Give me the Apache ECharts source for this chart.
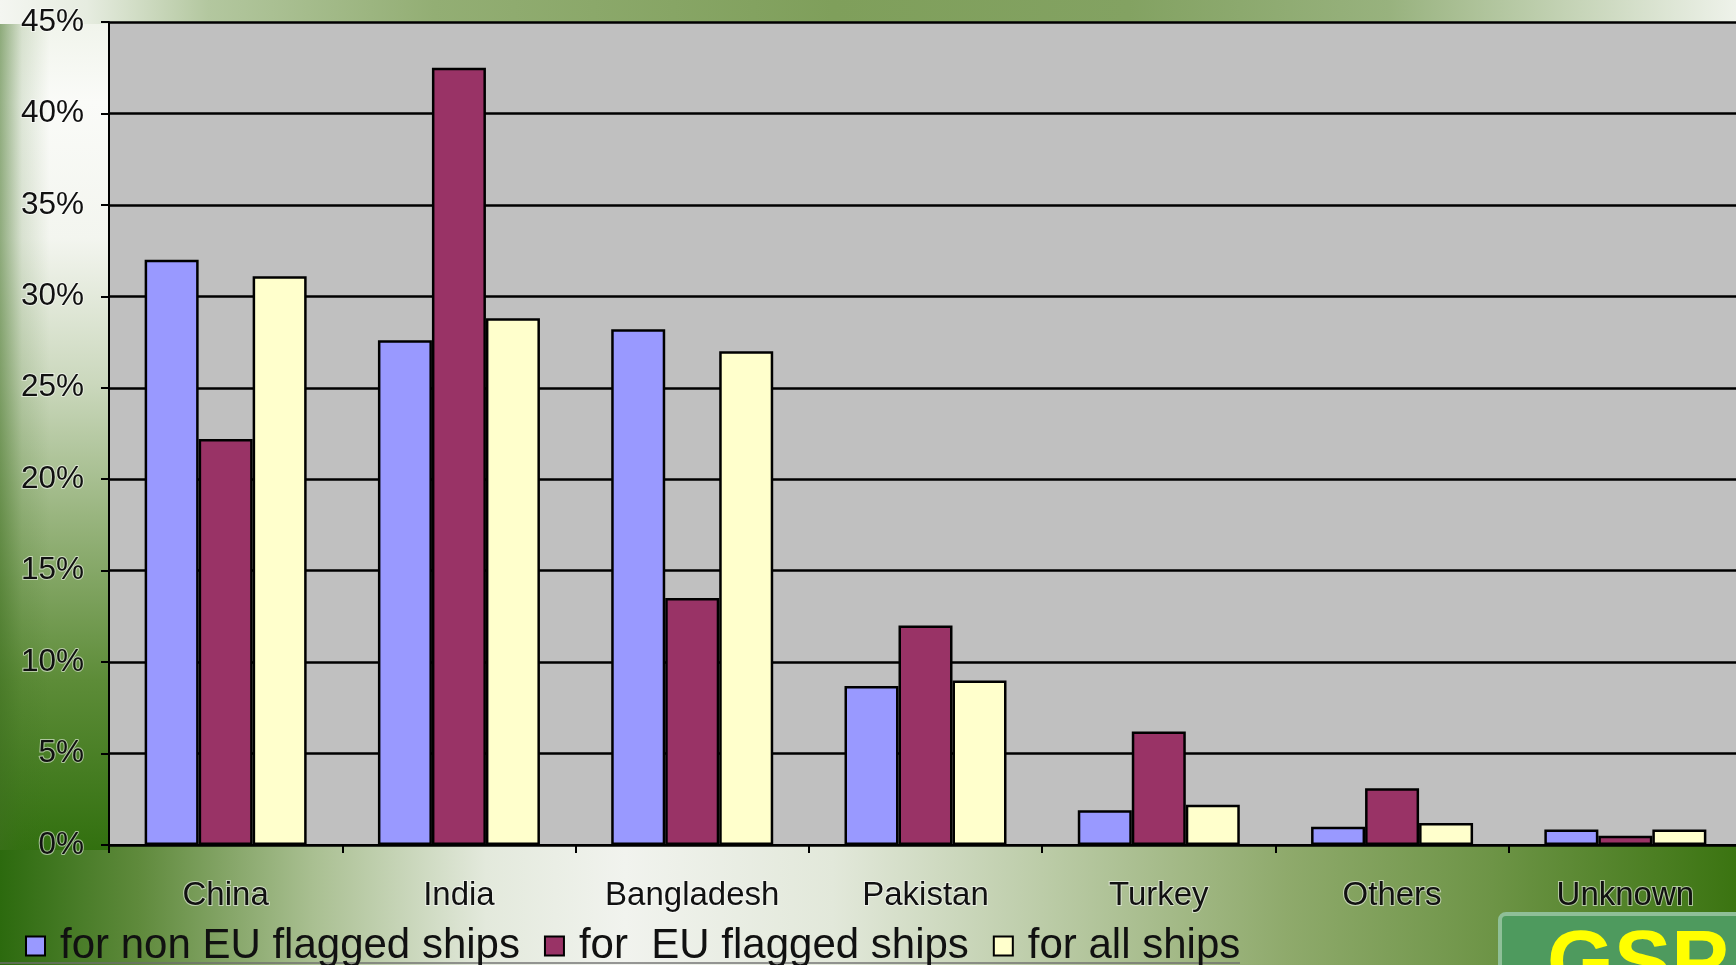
<!DOCTYPE html>
<html>
<head>
<meta charset="utf-8">
<script src="https://cdn.jsdelivr.net/npm/echarts@6/dist/echarts.min.js"></script>
<style>
  html, body { margin: 0; padding: 0; width: 1736px; height: 965px; overflow: hidden; position: relative; }
  #bg { position: absolute; left: 0; top: 0; width: 1736px; height: 965px;
        background: linear-gradient(to right, #2c6a0e 0%, #5f8a3c 8%, #a9bf91 18%, #e3e9dc 28%, #f1f3ee 36%, #e2e8da 48%, #bccca8 60%, #8faa6c 74%, #6d9446 86%, #3b7411 100%); }
  #left { position: absolute; left: 0; top: 0; width: 110px; height: 850px;
          background: linear-gradient(to bottom, #eef2e8 0%, #fafbf8 12%, #f3f5ef 28%, #cbd8bd 45%, #95b27a 62%, #5d8c38 80%, #32700f 100%); }
  #leftedge { position: absolute; left: 0; top: 0; width: 110px; height: 850px;
          background: linear-gradient(to right, rgba(60,110,30,0.55) 0%, rgba(60,110,30,0.15) 20%, rgba(255,255,255,0) 45%, rgba(255,255,255,0) 100%); }
  #top { position: absolute; left: 0; top: 0; width: 1736px; height: 24px;
         background: linear-gradient(to right, #f4f6f1 0%, #e6ece0 5%, #b3c79f 12%, #93ae74 25%, #7f9f5b 48%, #83a262 65%, #98b27e 80%, #cbd8be 92%, #eef2ea 100%); }
  #chart { position: absolute; left: 0; top: 0; width: 1760px; height: 965px; }
</style>
</head>
<body>
<div id="bg"></div>
<div id="left"></div>
<div id="leftedge"></div>
<div id="top"></div>
<div id="chart"></div>
<script>
const categories = ['China', 'India', 'Bangladesh', 'Pakistan', 'Turkey', 'Others', 'Unknown'];
const seriesNames = ['for non EU flagged ships', 'for  EU flagged ships', 'for all ships'];
const nonEU = [32.0, 27.6, 28.2, 8.7, 1.9, 1.0, 0.85];
const EU = [22.2, 42.5, 13.5, 12.0, 6.2, 3.1, 0.5];
const allShips = [31.1, 28.8, 27.0, 9.0, 2.2, 1.2, 0.85];
const colors = ['#9999FF', '#993366', '#FFFFCC'];

const chart = echarts.init(document.getElementById('chart'), null, { renderer: 'canvas' });
const fontFam = "'Liberation Sans', Arial, sans-serif";
const data = [nonEU, EU, allShips];

chart.setOption({
  animation: false,
  backgroundColor: 'transparent',
  grid: {
    left: 109, top: 22, width: 1633, height: 823,
    show: true, backgroundColor: '#C0C0C0', borderWidth: 0
  },
  legend: {
    left: 20, top: 920,
    itemWidth: 19, itemHeight: 19, itemGap: 24,
    icon: 'rect',
    textStyle: { fontFamily: fontFam, fontSize: 42, color: '#111', padding: [0, 0, 0, 10] },
    data: seriesNames
  },
  xAxis: {
    type: 'category',
    data: categories,
    axisLine: { lineStyle: { color: '#000', width: 2 } },
    axisTick: { show: true, length: 8, lineStyle: { color: '#000', width: 2 } },
    axisLabel: {
      fontFamily: fontFam, fontSize: 33, color: '#111', margin: 34,
      textBorderColor: 'rgba(255,255,255,0.55)', textBorderWidth: 2
    },
    splitLine: { show: false }
  },
  yAxis: {
    type: 'value',
    min: 0, max: 45, interval: 5,
    axisLine: { show: true, lineStyle: { color: '#000', width: 2 } },
    axisTick: { show: true, length: 8, lineStyle: { color: '#000', width: 2 } },
    axisLabel: {
      formatter: '{value}%', fontFamily: fontFam, fontSize: 31.5, color: '#111', margin: 25,
      textBorderColor: 'rgba(255,255,255,0.55)', textBorderWidth: 2
    },
    splitLine: { show: true, lineStyle: { color: '#000', width: 2.5 } }
  },
  series: seriesNames.map((name, i) => ({
    name: name,
    type: 'bar',
    data: data[i],
    barWidth: 54,
    barGap: '0%',
    itemStyle: { color: colors[i], borderColor: '#000', borderWidth: 2.5 }
  })),
  graphic: [
    { type: 'line', shape: { x1: 0, y1: 963, x2: 1240, y2: 963 }, style: { stroke: 'rgba(110,110,110,0.7)', lineWidth: 2 } },
    { type: 'rect', shape: { x: 1500, y: 914, width: 260, height: 80, r: 6 },
      style: { fill: '#4e9a5e', stroke: '#8fbf98', lineWidth: 4 } },
    { type: 'text', x: 1547, y: 923,
      style: { text: 'GSP', fill: '#ffff00', font: "bold 86px 'Liberation Sans', Arial, sans-serif", verticalAlign: 'top' } }
  ]
});
</script>
</body>
</html>
